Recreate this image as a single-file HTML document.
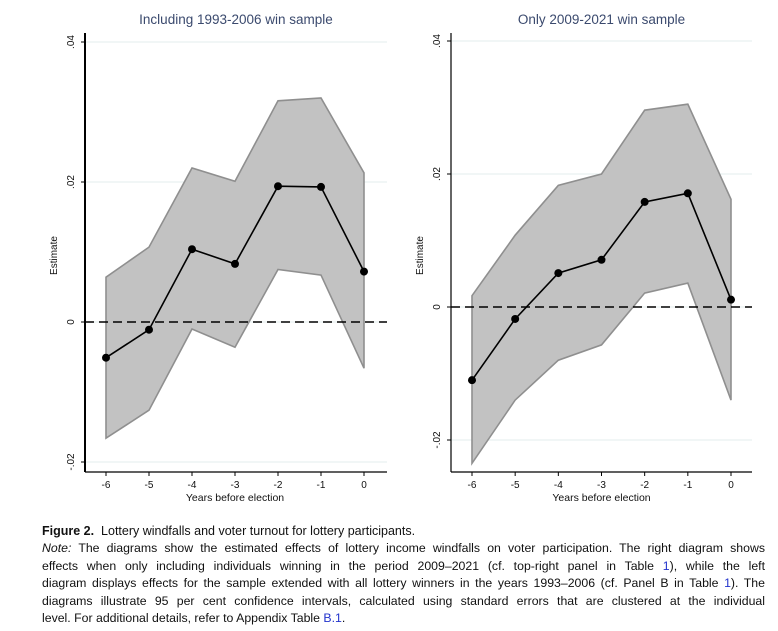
<!DOCTYPE html>
<html><head><meta charset="utf-8"><style>
body{margin:0;width:778px;height:631px;background:#fff;overflow:hidden;font-family:"Liberation Sans",sans-serif}
#cap{position:absolute;left:42px;top:523px;width:723px;font-family:"Liberation Sans Narrow","Liberation Sans",sans-serif;font-size:12.3px;line-height:17.4px;color:#111}
#cap div{text-align:justify;text-align-last:justify;white-space:nowrap}
#cap div.l{text-align-last:left}
</style></head><body>
<svg id="chart" width="778" height="515" style="position:absolute;left:0;top:0" font-family="Liberation Sans, sans-serif"></svg>
<div id="cap">
<div class="l" style="font-size:12.5px"><b>Figure 2.</b>&nbsp; Lottery windfalls and voter turnout for lottery participants.</div>
<div><i>Note:</i> The diagrams show the estimated effects of lottery income windfalls on voter participation. The right diagram shows</div>
<div>effects when only including individuals winning in the period 2009–2021 (cf. top-right panel in Table <span style="color:#2233cc">1</span>), while the left</div>
<div>diagram displays effects for the sample extended with all lottery winners in the years 1993–2006 (cf. Panel B in Table <span style="color:#2233cc">1</span>). The</div>
<div>diagrams illustrate 95 per cent confidence intervals, calculated using standard errors that are clustered at the individual</div>
<div class="l">level. For additional details, refer to Appendix Table <span style="color:#2233cc">B.1</span>.</div>
</div>
<script>
const categories=[-6,-5,-4,-3,-2,-1,0];
const leftEstimate=[-0.0051,-0.0011,0.0104,0.0083,0.0194,0.0193,0.0072];
const leftUpper=[0.0064,0.0107,0.022,0.0201,0.0316,0.032,0.0213];
const leftLower=[-0.0166,-0.0126,-0.001,-0.0036,0.0075,0.0067,-0.0066];
const rightEstimate=[-0.011,-0.0018,0.0051,0.0071,0.0158,0.0171,0.0011];
const rightUpper=[0.0017,0.0108,0.0183,0.020,0.0296,0.0305,0.0162];
const rightLower=[-0.0235,-0.014,-0.008,-0.0057,0.0021,0.0036,-0.014];
const leftTicks=[0.04,0.02,0,-0.02];
const rightTicks=[0.04,0.02,0,-0.02];
const tickLabels={"0.04":".04","0.02":".02","0":"0","-0.02":"-.02"};
const NS='http://www.w3.org/2000/svg';
const svg=document.getElementById('chart');
function mk(t,a,p){const e=document.createElementNS(NS,t);for(const k in a)e.setAttribute(k,a[k]);(p||svg).appendChild(e);return e;}
function panel(cfg){
 const g=mk('g',{});
 
 
 const x=v=>cfg.x0+(v-categories[0])*(cfg.x1-cfg.x0)/(categories[categories.length-1]-categories[0]);
 const y=v=>cfg.yZero-v*cfg.pxPer;
 const t=mk('text',{x:(cfg.axisX+cfg.right)/2,y:24,'text-anchor':'middle','font-size':13.5,fill:'#3b4a6e'},g);
 t.textContent=cfg.title;
 
 
 cfg.ticks.forEach(v=>{
  const gl=mk('line',{x1:cfg.axisX,x2:cfg.right,y1:y(v),y2:y(v),stroke:'#e3eeee','stroke-width':1},g);
  
  
  mk('line',{x1:cfg.axisX-4,x2:cfg.axisX,y1:y(v),y2:y(v),stroke:'#000'},g);
  const tl=mk('text',{transform:`translate(${cfg.axisX-11},${y(v)}) rotate(-90)`,'text-anchor':'middle','font-size':10,fill:'#111'},g);
  tl.textContent=tickLabels[String(v)];
  
  
 });
 let d='M'+categories.map((c,i)=>x(c)+','+y(cfg.up[i])).join('L');
 for(let i=categories.length-1;i>=0;i--)d+='L'+x(categories[i])+','+y(cfg.lo[i]);
 const band=mk('path',{d:d+'Z',fill:'#c2c2c2',stroke:'#8f8f8f','stroke-width':1.6},g);
 
 
 const zl=mk('line',{x1:cfg.axisX,x2:cfg.right,y1:y(0),y2:y(0),stroke:'#000','stroke-width':1.4,'stroke-dasharray':'9,5'},g);
 
 
 const ln=mk('polyline',{points:categories.map((c,i)=>x(c)+','+y(cfg.est[i])).join(' '),fill:'none',stroke:'#000','stroke-width':1.6},g);
 
 
 categories.forEach((c,i)=>{
  const p=mk('circle',{cx:x(c),cy:y(cfg.est[i]),r:4,fill:'#000'},g);
  
  
  mk('line',{x1:x(c),x2:x(c),y1:cfg.axisY,y2:cfg.axisY+4,stroke:'#000'},g);
  const xl=mk('text',{x:x(c),y:cfg.axisY+16,'text-anchor':'middle','font-size':10,fill:'#111'},g);
  xl.textContent=c;
  
  
 });
 mk('line',{x1:cfg.axisX,x2:cfg.axisX,y1:33,y2:cfg.axisY,stroke:'#000','stroke-width':cfg.axisW},g);
 mk('line',{x1:cfg.axisX,x2:cfg.right,y1:cfg.axisY,y2:cfg.axisY,stroke:'#000','stroke-width':1.2},g);
 const yt=mk('text',{transform:`translate(${cfg.axisX-28},${(33+cfg.axisY)/2+3}) rotate(-90)`,'text-anchor':'middle','font-size':10,fill:'#111'},g);
 yt.textContent='Estimate';
 
 
 const xt=mk('text',{x:x(-3),y:cfg.axisY+29,'text-anchor':'middle','font-size':10.5,fill:'#111'},g);
 xt.textContent='Years before election';
 
 
}
panel({name:'left-panel',title:'Including 1993-2006 win sample',axisX:85,right:387,axisY:472,axisW:2,x0:106,x1:364,yZero:322,pxPer:7000,ticks:leftTicks,est:leftEstimate,up:leftUpper,lo:leftLower});
panel({name:'right-panel',title:'Only 2009-2021 win sample',axisX:451,right:752,axisY:472,axisW:1.2,x0:472,x1:731,yZero:307,pxPer:6650,ticks:rightTicks,est:rightEstimate,up:rightUpper,lo:rightLower});
</script>
</body></html>
